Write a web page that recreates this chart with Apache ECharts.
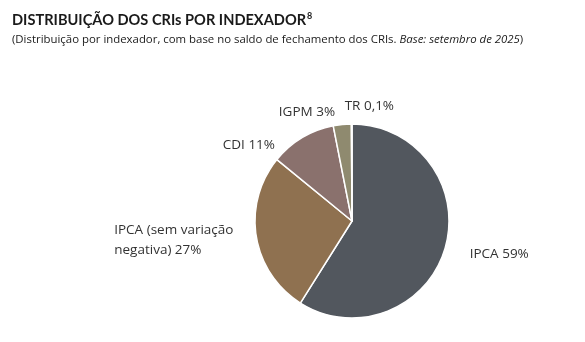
<!DOCTYPE html>
<html>
<head>
<meta charset="utf-8">
<script src="https://cdn.jsdelivr.net/npm/echarts@6/dist/echarts.min.js"></script>
<style>
  html, body { margin: 0; padding: 0; background: #ffffff; }
  #chart { width: 585px; height: 342px; }
</style>
</head>
<body>
<div id="chart"></div>
<script>
// Distribution of CRIs by index, closing balance, September 2025
const categories = ['IPCA', 'IPCA (sem variação\nnegativa)', 'CDI', 'IGPM', 'TR'];
const shares = [59, 27, 11, 3, 0.1];
const sliceColors = ['#52575e', '#8f7150', '#8a716d', '#8f8a6f', '#a9a58f'];

// label nudges away from the default outside anchor, per slice
const labelNudge = [[0, 3], [2, 2], [-8, 18], [7, 0], [6, -6]];
const labelAlign = [null, null, null, null, 'left'];

const fmt = v => String(v).replace('.', ',') + '%';

const chart = echarts.init(document.getElementById('chart'), null, { renderer: 'canvas' });

chart.setOption({
  animation: false,
  backgroundColor: '#ffffff',
  textStyle: { fontFamily: '"Open Sans", "Noto Sans", sans-serif' },
  title: {
    left: 7,
    top: 7,
    itemGap: 7,
    text: 'DISTRIBUIÇÃO DOS CRIs POR INDEXADOR{sup|8}',
    textStyle: {
      fontFamily: 'Lato, sans-serif',
      fontSize: 14.6,
      fontWeight: 'bold',
      color: '#1a1a1a',
      rich: {
        sup: { fontFamily: 'Lato, sans-serif', fontSize: 9, fontWeight: 'bold', color: '#1a1a1a', verticalAlign: 'top', padding: [0, 0, 7, 1] }
      }
    },
    subtext: '(Distribuição por indexador, com base no saldo de fechamento dos CRIs. {i|Base: setembro de 2025})',
    subtextStyle: {
      fontFamily: '"Open Sans", sans-serif',
      fontSize: 11.4,
      color: '#1a1a1a',
      rich: {
        i: { fontStyle: 'italic', fontSize: 11.4, color: '#1a1a1a', fontFamily: '"Open Sans", sans-serif' }
      }
    }
  },
  series: [{
    type: 'pie',
    center: [352, 221],
    radius: 97,
    startAngle: 90,
    clockwise: true,
    avoidLabelOverlap: false,
    itemStyle: { borderColor: '#ffffff', borderWidth: 1.5 },
    label: {
      show: true,
      position: 'outside',
      fontFamily: '"Open Sans", sans-serif',
      fontSize: 13.5,
      lineHeight: 20,
      color: '#333333',
      formatter: p => {
        const lines = (p.name + ' ' + fmt(p.value)).split('\n');
        return lines.map(l => '{t|' + l + '}').join('\n');
      },
      rich: {
        t: { fontFamily: '"Open Sans", sans-serif', fontSize: 13.5, lineHeight: 20, color: '#333333', align: 'left' }
      }
    },
    labelLine: { show: false, length: 12, length2: 8 },
    labelLayout: p => {
      const [dx, dy] = labelNudge[p.dataIndex];
      const out = { dx, dy, hideOverlap: false, moveOverlap: null };
      if (labelAlign[p.dataIndex]) out.align = labelAlign[p.dataIndex];
      return out;
    },
    data: categories.map((name, i) => ({
      name,
      value: shares[i],
      itemStyle: { color: sliceColors[i] }
    }))
  }]
});
</script>
</body>
</html>
